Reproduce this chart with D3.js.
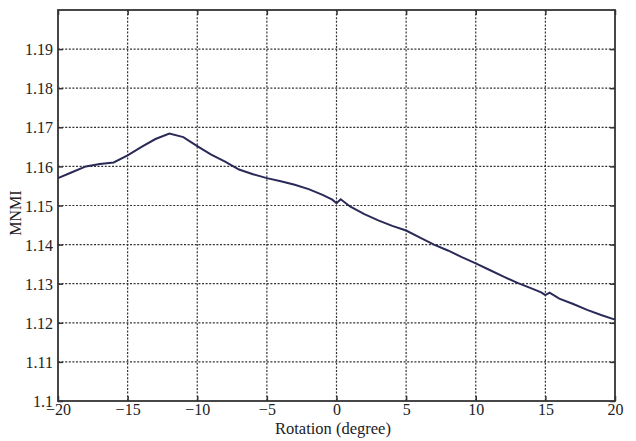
<!DOCTYPE html>
<html><head><meta charset="utf-8">
<script src="https://cdn.jsdelivr.net/npm/d3@7"></script>
<style>body{margin:0;background:#fff;}svg{display:block;} text{font-family:"Liberation Serif","Times New Roman",Tinos,"DejaVu Serif",serif;}</style>
</head><body>
<script>
const rotation = [-20,-19,-18,-17,-16,-15,-14,-13,-12,-11,-10,-9,-8,-7,-6,-5,-4,-3,-2,-1,-0.3,0,0.3,1,2,3,4,5,6,7,8,9,10,11,12,13,14,14.7,15,15.3,16,17,18,19,20];
const mnmi = [1.1570,1.1585,1.1600,1.1606,1.1610,1.1628,1.1650,1.1670,1.1684,1.1675,1.1652,1.1630,1.1612,1.1592,1.1580,1.1570,1.1562,1.1553,1.1542,1.1527,1.1515,1.1506,1.1516,1.1497,1.1478,1.1462,1.1448,1.1436,1.1418,1.1400,1.1385,1.1368,1.1352,1.1335,1.1318,1.1302,1.1288,1.1278,1.1271,1.1277,1.1262,1.1248,1.1233,1.1220,1.1208];
const xTicks = [-20,-15,-10,-5,0,5,10,15,20];
const yTicks = [1.1,1.11,1.12,1.13,1.14,1.15,1.16,1.17,1.18,1.19];
const xTitle = "Rotation (degree)";
const yTitle = "MNMI";

const W=636,H=441, L=58,R=615,T=10,B=401;
const svg=d3.select("body").append("svg").attr("width",W).attr("height",H);
const x=d3.scaleLinear().domain([-20,20]).range([L,R]);
const y=d3.scaleLinear().domain([1.1,1.2]).range([B,T]);

// grid
const g=svg.append("g");
g.selectAll("line.vx").data(xTicks.slice(1,-1)).join("line")
 .attr("x1",d=>x(d)).attr("x2",d=>x(d)).attr("y1",T).attr("y2",B)
 .attr("stroke","#333").attr("stroke-width",1.2).attr("stroke-dasharray","2,1.6");
g.selectAll("line.hy").data(yTicks.slice(1)).join("line")
 .attr("y1",d=>y(d)).attr("y2",d=>y(d)).attr("x1",L).attr("x2",R)
 .attr("stroke","#333").attr("stroke-width",1.2).attr("stroke-dasharray","2,1.6");

// axes with inward ticks
const xa=svg.append("g").attr("transform",`translate(0,${B})`)
 .call(d3.axisBottom(x).tickValues(xTicks).tickSizeInner(-5).tickSizeOuter(0).tickPadding(3).tickFormat(d3.format("d")));
const ya=svg.append("g").attr("transform",`translate(${L},0)`)
 .call(d3.axisLeft(y).tickValues(yTicks).tickSizeInner(-5).tickSizeOuter(0).tickPadding(5).tickFormat(d=>String(+d.toFixed(2))));
const xt=svg.append("g").attr("transform",`translate(0,${T})`)
 .call(d3.axisTop(x).tickValues(xTicks).tickSizeInner(-5).tickSizeOuter(0).tickFormat(""));
const yr=svg.append("g").attr("transform",`translate(${R},0)`)
 .call(d3.axisRight(y).tickValues(yTicks).tickSizeInner(-5).tickSizeOuter(0).tickFormat(""));
[xa,ya,xt,yr].forEach(a=>{a.attr("font-family",null);a.select(".domain").remove();a.selectAll("line").attr("stroke","#333").attr("stroke-width",1.5);});
[xa,ya].forEach(a=>a.selectAll("text").attr("font-size",16).attr("fill","#222"));
xa.selectAll("text").attr("dy","0.71em");
ya.selectAll("text").attr("dy","0.35em");

// frame
svg.append("rect").attr("x",L).attr("y",T).attr("width",R-L).attr("height",B-T)
 .attr("fill","none").attr("stroke","#333").attr("stroke-width",1.8);

// curve
const pts=rotation.map((r,i)=>[r,mnmi[i]]);
svg.append("path").datum(pts)
 .attr("d",d3.line().x(d=>x(d[0])).y(d=>y(d[1])))
 .attr("fill","none").attr("stroke","#2a2a58").attr("stroke-width",2);

// titles
svg.append("text").attr("x",333).attr("y",434).attr("text-anchor","middle")
 .attr("font-size",16.5).attr("fill","#222").text(xTitle);
svg.append("text").attr("transform",`translate(21,213) rotate(-90)`).attr("text-anchor","middle")
 .attr("font-size",16).attr("fill","#222").text(yTitle);
</script>
</body></html>
